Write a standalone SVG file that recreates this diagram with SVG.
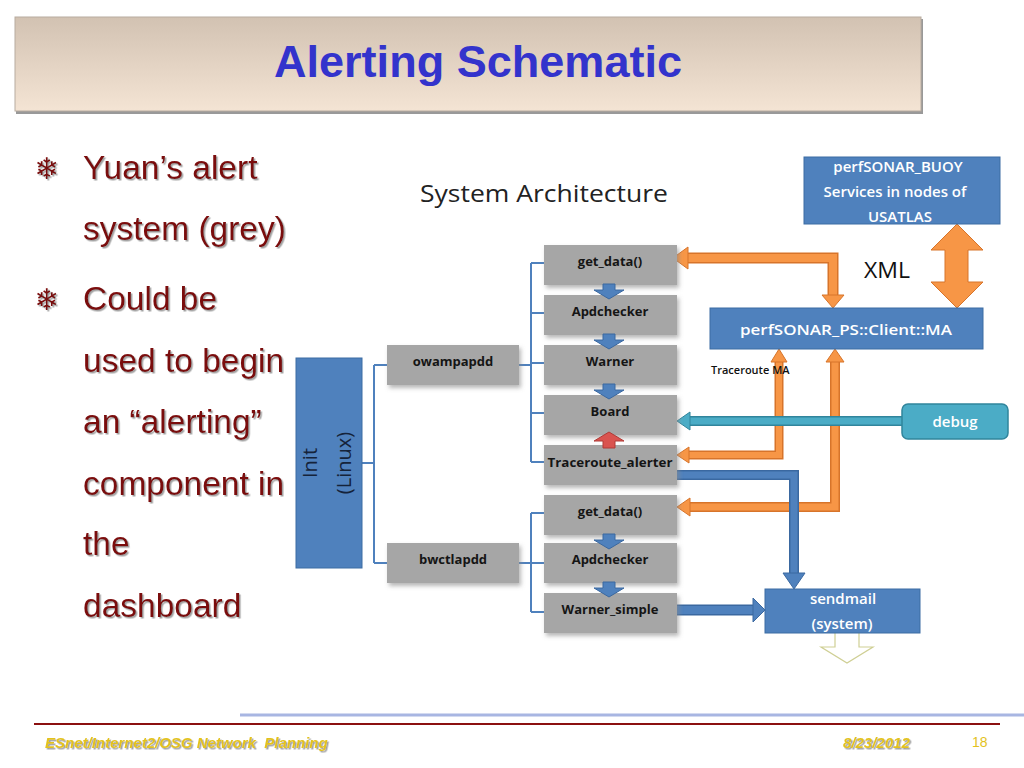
<svg xmlns="http://www.w3.org/2000/svg" width="1024" height="768" viewBox="0 0 1024 768">
<defs>
<linearGradient id="tg" x1="0" y1="0" x2="0" y2="1">
<stop offset="0" stop-color="#d2c2b2"/>
<stop offset="1" stop-color="#f4e4d4"/>
</linearGradient>
<filter id="sh" x="-10%" y="-10%" width="130%" height="130%">
<feDropShadow dx="1.5" dy="1.5" stdDeviation="0.6" flood-color="#8a8a8a" flood-opacity="0.8"/>
</filter>
<filter id="bs" x="-10%" y="-20%" width="130%" height="150%">
<feDropShadow dx="2" dy="3" stdDeviation="2" flood-color="#888" flood-opacity="0.6"/>
</filter>
<style>
.grey{fill:#a6a6a6;filter:url(#bs)}
.blue{fill:#4f81bd;stroke:#3d6ca3;stroke-width:1}
.gt{font-family:"Open Sans","Liberation Sans",sans-serif;font-size:13px;font-weight:700;fill:#151515;text-anchor:middle}
.wt{font-family:"Open Sans","Liberation Sans",sans-serif;font-size:15px;font-weight:600;fill:#ffffff;text-anchor:middle}
.bul{font-family:"Liberation Sans",Arial,sans-serif;font-size:33.5px;fill:#7a0808}
.tree{fill:none;stroke:#4f81bd;stroke-width:2}
.oo{fill:none;stroke:#d7742a;stroke-linejoin:miter}
.oi{fill:none;stroke:#f79646;stroke-linejoin:miter}
.oh{fill:#f79646;stroke:#d7742a;stroke-width:1}
.bo{fill:none;stroke:#3a68a0;stroke-linejoin:miter}
.bi{fill:none;stroke:#4f81bd;stroke-linejoin:miter}
.bh{fill:#4f81bd;stroke:#3a68a0;stroke-width:1}
.foot{font-family:"Liberation Sans",Arial,sans-serif;font-size:15px;font-weight:bold;font-style:italic;fill:#e3c21e}
</style>
</defs>
<rect width="1024" height="768" fill="#ffffff"/>

<!-- title bar -->
<g id="title">
<rect x="16" y="19" width="907" height="95" fill="#999"/>
<rect x="15" y="17" width="906" height="94" fill="url(#tg)" stroke="#b8aca0" stroke-width="1"/>
<text x="478" y="77" font-family="Liberation Sans,Arial,sans-serif" font-size="44" font-weight="bold" fill="#3333cc" text-anchor="middle" textLength="408" lengthAdjust="spacingAndGlyphs">Alerting Schematic</text>
</g>

<!-- bullets -->
<g id="bullets" filter="url(#sh)">
<text x="47" y="179" font-family="DejaVu Sans,sans-serif" font-size="30" fill="#7a0808" text-anchor="middle">❄</text>
<text x="47" y="310" font-family="DejaVu Sans,sans-serif" font-size="30" fill="#7a0808" text-anchor="middle">❄</text>
<text class="bul" x="83" y="179">Yuan’s alert</text>
<text class="bul" x="83" y="240">system (grey)</text>
<text class="bul" x="83" y="310">Could be</text>
<text class="bul" x="83" y="372">used to begin</text>
<text class="bul" x="83" y="433">an “alerting”</text>
<text class="bul" x="83" y="495">component in</text>
<text class="bul" x="83" y="555">the</text>
<text class="bul" x="83" y="617">dashboard</text>
</g>

<text id="sysarch" x="420" y="202" font-family="Open Sans,Liberation Sans,sans-serif" font-size="24" fill="#222" textLength="248" lengthAdjust="spacingAndGlyphs">System Architecture</text>

<!-- connectors -->
<g id="connectors">
<path class="tree" d="M362 463H374M374 365V563M374 365H387M374 563H387"/>
<path class="tree" d="M519 365H531M531 263V462M531 263H544M531 313H544M531 363H544M531 413H544M531 462H544"/>
<path class="tree" d="M519 563H531M531 513V612M531 513H544M531 563H544M531 612H544"/>

<!-- orange get_data <-> MA -->
<path class="oo" stroke-width="11" d="M687 258H833V296"/>
<path class="oi" stroke-width="8" d="M687 258H833V296"/>
<polygon class="oh" points="673,258 688,247 688,269"/>
<polygon class="oh" points="822,295 844,295 833,308"/>

<!-- XML double arrow -->
<polygon class="oh" points="957,224 983,250 968,250 968,282 983,282 957,308 931,282 945,282 945,250 931,250"/>

<!-- orange MA -> Traceroute_alerter -->
<path class="oo" stroke-width="9" d="M779 360V455H688"/>
<path class="oi" stroke-width="6" d="M779 360V455H688"/>
<polygon class="oh" points="779,349 771,362 787,362"/>
<polygon class="oh" points="677,455 689,447 689,463"/>

<!-- orange MA -> get_data 2 -->
<path class="oo" stroke-width="10" d="M835 361V507H688"/>
<path class="oi" stroke-width="7" d="M835 361V507H688"/>
<polygon class="oh" points="835,349 826,362 844,362"/>
<polygon class="oh" points="677,507 690,498 690,516"/>

<!-- teal debug -> Board -->
<path fill="none" stroke="#31859c" stroke-width="10" d="M903 421H688"/>
<path fill="none" stroke="#4bacc6" stroke-width="7" d="M903 421H688"/>
<polygon fill="#4bacc6" stroke="#31859c" stroke-width="1" points="677,421 690,412 690,430"/>

<!-- blue Traceroute_alerter -> sendmail -->
<path class="bo" stroke-width="10" d="M677 475H794V575"/>
<path class="bi" stroke-width="7" d="M677 475H794V575"/>
<polygon class="bh" points="783,573 805,573 794,589"/>

<!-- blue Warner_simple -> sendmail -->
<path class="bo" stroke-width="11" d="M677 610H755"/>
<path class="bi" stroke-width="8" d="M677 610H755"/>
<polygon class="bh" points="753,598 753,622 765,610"/>

<!-- output arrow below sendmail -->
<polyline fill="#ffffff" stroke="#cfcf94" stroke-width="1.2" points="835,633 835,647 821,647 847,663 873,647 859,647 859,633"/>
</g>

<!-- nodes -->
<g id="init">
<rect class="blue" x="296" y="358" width="66" height="210"/>
<text transform="translate(317,463) rotate(-90)" font-family="Open Sans,Liberation Sans,sans-serif" font-size="20" fill="#15233a" text-anchor="middle">Init</text>
<text transform="translate(351,463) rotate(-90)" font-family="Open Sans,Liberation Sans,sans-serif" font-size="20" fill="#15233a" text-anchor="middle">(Linux)</text>
</g>
<g id="owampapdd"><rect class="grey" x="387" y="345" width="132" height="40"/><text class="gt" x="453" y="366">owampapdd</text></g>
<g id="bwctlapdd"><rect class="grey" x="387" y="543" width="132" height="40"/><text class="gt" x="453" y="564">bwctlapdd</text></g>

<g id="get_data1"><rect class="grey" x="544" y="245" width="133" height="40"/><text class="gt" x="610" y="266">get_data()</text></g>
<g id="apdchecker1"><rect class="grey" x="544" y="295" width="133" height="40"/><text class="gt" x="610" y="316">Apdchecker</text></g>
<g id="warner"><rect class="grey" x="544" y="345" width="133" height="40"/><text class="gt" x="610" y="366">Warner</text></g>
<g id="board"><rect class="grey" x="544" y="395" width="133" height="40"/><text class="gt" x="610" y="416">Board</text></g>
<g id="traceroute_alerter"><rect class="grey" x="544" y="445" width="133" height="40"/><text class="gt" x="610" y="467" textLength="125" lengthAdjust="spacingAndGlyphs">Traceroute_alerter</text></g>
<g id="get_data2"><rect class="grey" x="544" y="495" width="133" height="40"/><text class="gt" x="610" y="516">get_data()</text></g>
<g id="apdchecker2"><rect class="grey" x="544" y="543" width="133" height="40"/><text class="gt" x="610" y="564">Apdchecker</text></g>
<g id="warner_simple"><rect class="grey" x="544" y="593" width="133" height="40"/><text class="gt" x="610" y="614">Warner_simple</text></g>

<!-- block arrows between stages -->
<g id="stage-arrows" fill="#4f81bd" stroke="#3a68a0" stroke-width="1">
<polygon points="603,284 615,284 615,290 624,290 609,299 594,290 603,290"/>
<polygon points="603,334 615,334 615,340 624,340 609,349 594,340 603,340"/>
<polygon points="603,384 615,384 615,390 624,390 609,399 594,390 603,390"/>
<polygon points="603,534 615,534 615,540 624,540 609,549 594,540 603,540"/>
<polygon points="603,582 615,582 615,588 624,588 609,597 594,588 603,588"/>
<polygon fill="#d9534f" stroke="#b03a36" points="609,432 624,441 615,441 615,448 603,448 603,441 594,441"/>
</g>

<g id="buoy">
<rect class="blue" x="804" y="157" width="196" height="67"/>
<text class="wt" x="898" y="172">perfSONAR_BUOY</text>
<text class="wt" x="895" y="197">Services in nodes of</text>
<text class="wt" x="900" y="222">USATLAS</text>
</g>
<text id="xml" x="864" y="278" font-family="Open Sans,Liberation Sans,sans-serif" font-size="21" fill="#111" textLength="46" lengthAdjust="spacingAndGlyphs">XML</text>

<g id="ma">
<rect class="blue" x="710" y="308" width="273" height="41"/>
<text class="wt" x="846" y="335" textLength="212" lengthAdjust="spacingAndGlyphs">perfSONAR_PS::Client::MA</text>
</g>
<text id="trma" x="711" y="374" font-family="Open Sans,Liberation Sans,sans-serif" font-size="11" font-weight="600" fill="#111">Traceroute MA</text>

<g id="debug">
<rect x="902" y="404" width="106" height="35" rx="6" fill="#4bacc6" stroke="#31859c" stroke-width="1.5"/>
<text class="wt" x="955" y="427" font-size="16">debug</text>
</g>

<g id="sendmail">
<rect class="blue" x="765" y="589" width="155" height="44"/>
<text class="wt" x="843" y="604">sendmail</text>
<text class="wt" x="842" y="629">(system)</text>
</g>

<!-- footer -->
<g id="footer">
<line x1="240" y1="715" x2="1024" y2="715" stroke="#a8b6e2" stroke-width="3"/>
<line x1="34" y1="724" x2="1000" y2="724" stroke="#8b1010" stroke-width="2"/>
<g filter="url(#sh)">
<text class="foot" x="45" y="748" xml:space="preserve">ESnet/Internet2/OSG Network  Planning</text>
<text class="foot" x="843" y="748">8/23/2012</text>
</g>
<text x="972" y="747" font-family="Liberation Sans,Arial,sans-serif" font-size="14" fill="#e3c21e">18</text>
</g>
</svg>
